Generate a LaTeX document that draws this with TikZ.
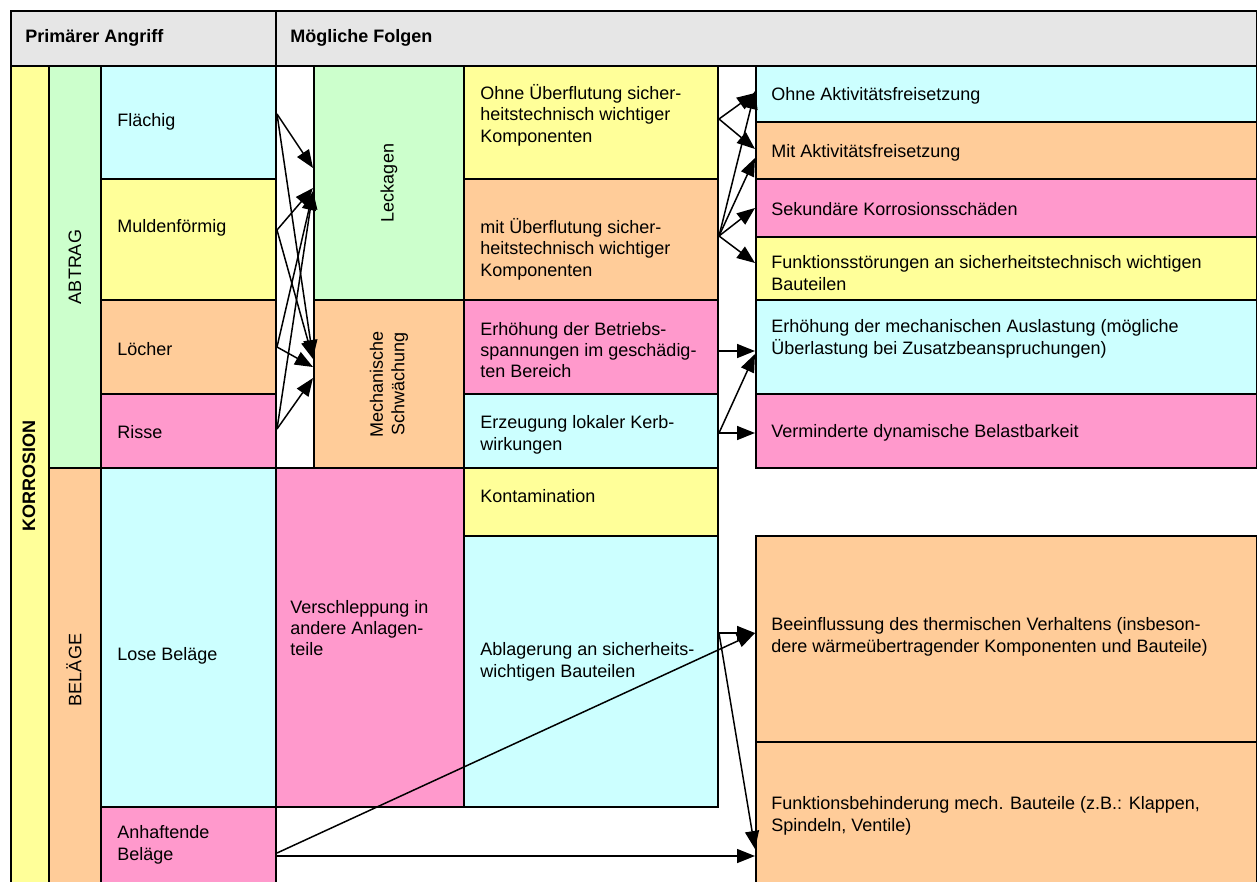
\documentclass[tikz,border=0pt]{standalone}
\usepackage{fontspec}
\setmainfont{Liberation Sans}
\usetikzlibrary{arrows.meta}
\definecolor{PaleGray}{HTML}{E6E6E6}
\definecolor{PaleCyan}{HTML}{CCFFFF}
\definecolor{PaleYellow}{HTML}{FFFF99}
\definecolor{PaleOrange}{HTML}{FFCC99}
\definecolor{PalePink}{HTML}{FF99CC}
\definecolor{PaleGreen}{HTML}{CCFFCC}

\begin{document}
\begin{tikzpicture}[x=0.5pt,y=-0.5pt,
  every node/.style={font=\fontsize{9}{10.7}\selectfont},
  cell/.style={draw,line width=1pt,anchor=north west,inner sep=0pt},
  txt/.style={anchor=west,align=left,inner sep=0pt},
  vtxt/.style={rotate=90,align=center,inner sep=0pt},
  arr/.style={-{Triangle[length=9pt,width=7pt]},line width=0.75pt}]
\useasboundingbox (0,0) rectangle (1257,882);
\clip (0,0) rectangle (1257,882);
% header
\node[cell,fill=PaleGray,minimum width=132.5pt,minimum height=27.5pt] (hdr1) at (10,10) {};
\node[cell,fill=PaleGray,minimum width=490.5pt,minimum height=27.5pt] (hdr2) at (275,10) {};
% primary attack
\node[cell,fill=PaleYellow,minimum width=19pt,minimum height=415pt] (korr) at (10,65) {};
\node[cell,fill=PaleGreen,minimum width=26pt,minimum height=201pt] (abtrag) at (48,65) {};
\node[cell,fill=PaleOrange,minimum width=26pt,minimum height=214pt] (belaege) at (48,467) {};
\node[cell,fill=PaleCyan,minimum width=87.5pt,minimum height=56.5pt] (flaechig) at (100,65) {};
\node[cell,fill=PaleYellow,minimum width=87.5pt,minimum height=60.5pt] (mulden) at (100,178) {};
\node[cell,fill=PaleOrange,minimum width=87.5pt,minimum height=47pt] (loecher) at (100,299) {};
\node[cell,fill=PalePink,minimum width=87.5pt,minimum height=37pt] (risse) at (100,393) {};
\node[cell,fill=PaleCyan,minimum width=87.5pt,minimum height=169.5pt] (lose) at (100,467) {};
\node[cell,fill=PalePink,minimum width=87.5pt,minimum height=39pt] (anhaft) at (100,806) {};
% consequences
\node[cell,fill=PaleGreen,minimum width=75pt,minimum height=117pt] (leck) at (313,65) {};
\node[cell,fill=PaleOrange,minimum width=75pt,minimum height=84pt] (mech) at (313,299) {};
\node[cell,fill=PalePink,minimum width=94pt,minimum height=169.5pt] (versch) at (275,467) {};
\node[cell,fill=PaleYellow,minimum width=127pt,minimum height=56.5pt] (ohneUe) at (463,65) {};
\node[cell,fill=PaleOrange,minimum width=127pt,minimum height=60.5pt] (mitUe) at (463,178) {};
\node[cell,fill=PalePink,minimum width=127pt,minimum height=47pt] (betr) at (463,299) {};
\node[cell,fill=PaleCyan,minimum width=127pt,minimum height=37pt] (kerb) at (463,393) {};
\node[cell,fill=PaleYellow,minimum width=127pt,minimum height=34pt] (kont) at (463,467) {};
\node[cell,fill=PaleCyan,minimum width=127pt,minimum height=135.5pt] (ablag) at (463,535) {};
\node[cell,fill=PaleCyan,minimum width=250.5pt,minimum height=28pt] (ohneAkt) at (755,65) {};
\node[cell,fill=PaleOrange,minimum width=250.5pt,minimum height=28.5pt] (mitAkt) at (755,121) {};
\node[cell,fill=PalePink,minimum width=250.5pt,minimum height=29pt] (sekund) at (755,178) {};
\node[cell,fill=PaleYellow,minimum width=250.5pt,minimum height=31.5pt] (fstoer) at (755,236) {};
\node[cell,fill=PaleCyan,minimum width=250.5pt,minimum height=47pt] (mechAusl) at (755,299) {};
\node[cell,fill=PalePink,minimum width=250.5pt,minimum height=37pt] (vermind) at (755,393) {};
\node[cell,fill=PaleOrange,minimum width=250.5pt,minimum height=103pt] (beeinfl) at (755,535) {};
\node[cell,fill=PaleOrange,minimum width=250.5pt,minimum height=75pt] (fbehind) at (755,741) {};

% arrows
\draw[arr] ([yshift=4.25pt]flaechig.east) -- ([yshift=7.5pt]leck.west);
\draw[arr] ([yshift=4.25pt]flaechig.east) -- ([yshift=13pt]mech.west);
\draw[arr] ([yshift=4.75pt]mulden.east) -- ([yshift=-2.5pt]leck.west);
\draw[arr] ([yshift=4.75pt]mulden.east) -- ([yshift=12.5pt]mech.west);
\draw[arr] (loecher.east) -- ([yshift=-4.5pt]leck.west);
\draw[arr] (loecher.east) -- ([yshift=8.5pt]mech.west);
\draw[arr] ([yshift=1pt]risse.east) -- ([yshift=-4pt]leck.west);
\draw[arr] ([yshift=1pt]risse.east) -- ([yshift=3pt]mech.west);
\draw[arr] ([yshift=1.75pt]ohneUe.east) -- ([yshift=0.5pt]ohneAkt.west);
\draw[arr] ([yshift=1.75pt]ohneUe.east) -- ([yshift=0.75pt]mitAkt.west);
\draw[arr] ([yshift=1.75pt]mitUe.east) -- ([yshift=1.5pt]ohneAkt.west);
\draw[arr] ([yshift=1.75pt]mitUe.east) -- ([yshift=-3.75pt]mitAkt.west);
\draw[arr] ([yshift=1.75pt]mitUe.east) -- (sekund.west);
\draw[arr] ([yshift=1.75pt]mitUe.east) -- ([yshift=2.75pt]fstoer.west);
\draw[arr] ([yshift=-2pt]betr.east) -- ([yshift=-2pt]mechAusl.west);
\draw[arr] ([yshift=-1pt]kerb.east) -- ([yshift=-3.5pt]mechAusl.west);
\draw[arr] ([yshift=-1pt]kerb.east) -- ([yshift=-1pt]vermind.west);
\draw[arr] ([yshift=19.25pt]ablag.east) -- ([yshift=3pt]beeinfl.west);
\draw[arr] ([yshift=19.25pt]ablag.east) -- ([yshift=-16pt]fbehind.west);
\draw[arr] ([yshift=-3.5pt]anhaft.east) -- ([yshift=3pt]beeinfl.west);
\draw[arr] ([yshift=-5pt]anhaft.east) -- ([yshift=-19.5pt]fbehind.west);

% texts
\node[txt,font=\fontsize{9}{10.7}\selectfont\bfseries] (t-hdr1) at (25,38) {Primärer Angriff};
\node[txt,font=\fontsize{9}{10.7}\selectfont\bfseries] (t-hdr2) at (290,38) {Mögliche Folgen};
\node[vtxt,font=\fontsize{9}{10.7}\selectfont\bfseries] (t-korr) at (29,476) {KORROSION};
\node[vtxt] (t-abtrag) at (abtrag.center) {ABTRAG};
\node[vtxt] (t-belaege) at (74,670) {BELÄGE};
\node[txt] (t-flaechig) at (117,122) {Flächig};
\node[txt] (t-mulden) at (117,228) {Muldenförmig};
\node[txt] (t-loecher) at (117,349) {Löcher};
\node[txt] (t-risse) at (117,432) {Risse};
\node[txt] (t-lose) at (117,656) {Lose Beläge};
\node[txt] (t-anhaft) at (117,845) {Anhaftende\\Beläge};
\node[vtxt] (t-leck) at (leck.center) {Leckagen};
\node[vtxt] (t-mech) at (mech.center) {Mechanische\\Schwächung};
\node[txt] (t-versch) at (290,628) {Verschleppung in\\andere Anlagen-\\teile};
\node[txt] (t-ohneUe) at (480,115) {Ohne Überflutung sicher-\\heitstechnisch wichtiger\\Komponenten};
\node[txt] (t-mitUe) at (480,249) {mit Überflutung sicher-\\heitstechnisch wichtiger\\Komponenten};
\node[txt] (t-betr) at (480,350) {Erhöhung der Betriebs-\\spannungen im geschädig-\\ten Bereich};
\node[txt] (t-kerb) at (480,435) {Erzeugung lokaler Kerb-\\wirkungen};
\node[txt] (t-kont) at (480,496) {Kontamination};
\node[txt] (t-ablag) at (480,662) {Ablagerung an sicherheits-\\wichtigen Bauteilen};
\node[txt] (t-ohneAkt) at (771,96) {Ohne Aktivitätsfreisetzung};
\node[txt] (t-mitAkt) at (771,153) {Mit Aktivitätsfreisetzung};
\node[txt] (t-sekund) at (771,209) {Sekundäre Korrosionsschäden};
\node[txt] (t-fstoer) at (771,273) {Funktionsstörungen an sicherheitstechnisch wichtigen\\Bauteilen};
\node[txt] (t-mechAusl) at (771,339) {Erhöhung der mechanischen Auslastung (mögliche\\Überlastung bei Zusatzbeanspruchungen)};
\node[txt] (t-vermind) at (771,433) {Verminderte dynamische Belastbarkeit};
\node[txt] (t-beeinfl) at (771,637) {Beeinflussung des thermischen Verhaltens (insbeson-\\dere wärmeübertragender Komponenten und Bauteile)};
\node[txt] (t-fbehind) at (771,816) {Funktionsbehinderung mech. Bauteile (z.B.: Klappen,\\Spindeln, Ventile)};
\end{tikzpicture}
\end{document}
